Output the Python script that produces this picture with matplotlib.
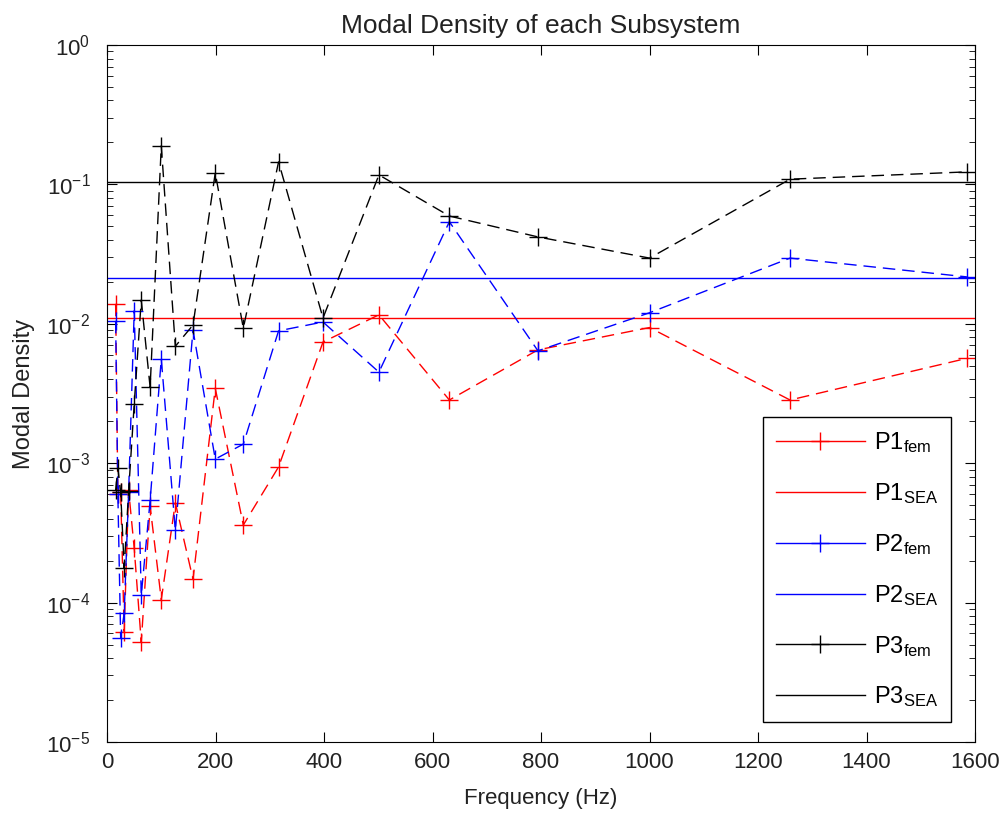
import matplotlib
matplotlib.use("Agg")
import matplotlib.pyplot as plt
from matplotlib.lines import Line2D

plt.rcParams['font.family'] = ['Liberation Sans', 'DejaVu Sans']
plt.rcParams['mathtext.fontset'] = 'custom'
plt.rcParams['mathtext.rm'] = 'Liberation Sans'
plt.rcParams['mathtext.it'] = 'Liberation Sans'

# third-octave band centres (Hz)
freq = [15.85, 19.95, 25.12, 31.62, 39.81, 50.12, 63.10, 79.43, 100.0, 125.9,
        158.5, 199.5, 251.2, 316.2, 398.1, 501.2, 631.0, 794.3, 1000.0, 1259.0, 1585.0]

p1_fem = [0.0139, 6.0e-4, 6.2e-4, 6.2e-5, 6.4e-4, 2.45e-4, 5.2e-5, 4.9e-4, 1.05e-4, 5.2e-4,
          1.47e-4, 3.45e-3, 3.6e-4, 9.4e-4, 7.4e-3, 0.0116, 2.84e-3, 6.5e-3, 9.4e-3, 2.84e-3, 5.65e-3]
p2_fem = [0.0105, 6.0e-4, 5.6e-5, 8.4e-5, 6.2e-4, 0.0124, 1.13e-4, 5.4e-4, 5.6e-3, 3.3e-4,
          9.0e-3, 1.07e-3, 1.37e-3, 8.9e-3, 0.0103, 4.5e-3, 0.054, 6.4e-3, 0.012, 0.0296, 0.0217]
p3_fem = [6.4e-4, 9.2e-4, 6.2e-4, 1.77e-4, 6.3e-4, 2.66e-3, 0.0148, 3.5e-3, 0.189, 6.9e-3,
          9.8e-3, 0.121, 9.3e-3, 0.145, 0.011, 0.117, 0.0593, 0.042, 0.0296, 0.109, 0.123]

p1_sea = 0.011
p2_sea = 0.0213
p3_sea = 0.104

labels = [r'P1$_{\rm fem}$', r'P1$_{\rm SEA}$', r'P2$_{\rm fem}$',
          r'P2$_{\rm SEA}$', r'P3$_{\rm fem}$', r'P3$_{\rm SEA}$']
colors = ['#ff0000', '#0000ff', '#000000']
text_col = '#222222'

fig = plt.figure(figsize=(10.06, 8.14), dpi=100)
ax = fig.add_axes([0.1064, 0.0885, 0.8628, 0.8562])

handles = []
for fem, sea, c in zip([p1_fem, p2_fem, p3_fem], [p1_sea, p2_sea, p3_sea], colors):
    ax.plot(freq, fem, color=c, lw=1.0, dashes=(9, 5), marker='+', ms=13, mew=1.0)
    ax.axhline(sea, color=c, lw=1.0)
    handles.append(Line2D([], [], color=c, lw=1.0, marker='+', ms=13, mew=1.0))
    handles.append(Line2D([], [], color=c, lw=1.0))

ax.set_yscale('log')
ax.set_xlim(0, 1600)
ax.set_ylim(1e-5, 1)
ax.set_xticks(range(0, 1601, 200))
ax.tick_params(which='both', direction='in', top=True, right=True,
               labelsize=16, labelcolor=text_col)
ax.tick_params(which='major', length=7)
ax.tick_params(which='minor', length=4)
ax.tick_params(axis='x', pad=7)
ax.tick_params(axis='y', pad=12)

ax.set_title('Modal Density of each Subsystem', fontsize=19, pad=9, color=text_col)
ax.set_xlabel('Frequency (Hz)', fontsize=16, labelpad=11, color=text_col)
ax.set_ylabel('Modal Density', fontsize=17, labelpad=8, color=text_col)

leg = ax.legend(handles, labels, loc='lower right', fontsize=17, numpoints=1,
                handlelength=3.8, handletextpad=0.35, labelspacing=1.1,
                borderpad=0.55, bbox_to_anchor=(0.972, 0.028),
                borderaxespad=0.0,
                fancybox=False, edgecolor='black', framealpha=1)
leg.get_frame().set_linewidth(1.0)

fig.savefig('out.png', dpi=100)
